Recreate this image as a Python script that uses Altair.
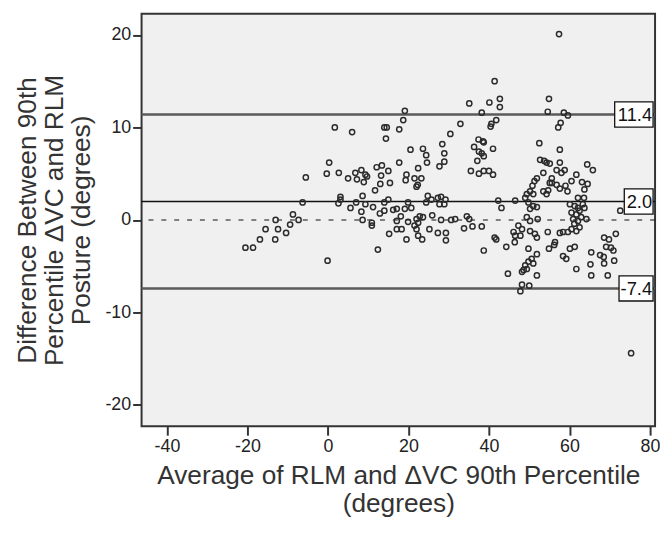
import altair as alt
import pandas as pd

# Average of RLM and dVC 90th percentile (x) and difference (y)
avg = [-5.5, -6.3, -8.7, -7.3, -9.4, -10.4, -13.0, -12.4, -13.1, -15.5, -16.9, -20.5, -18.6,
       1.7, 6.0, 14.0, 14.6, 17.7, 14.4, 0.3, -0.3, 2.7, 5.0, 6.8, 7.2, 8.3, 9.3, 9.7, 8.9,
       12.1, 13.4, 15.0, 13.2, 15.4, 13.0, 11.7, 17.7, 3.1, 3.1, 2.6, 7.0, 8.6, 9.3, 5.6, 8.3,
       11.2, 14.0, 15.0, 12.9, 14.0, 16.2, 8.6, 10.9, 10.9, 17.1, 18.1, 15.2, 17.1, 12.4, -0.1,
       35.1, 38.2, 19.1, 18.7, 32.9, 30.4, 28.4, 28.9, 28.9, 27.7, 20.5, 23.6, 24.4, 24.6, 22.4,
       19.5, 19.3, 21.5, 23.2, 22.0, 22.3, 37.4, 38.5, 36.3, 37.5, 37.1, 38.7, 35.5, 37.5, 38.7,
       24.8, 25.7, 27.3, 28.1, 29.2, 24.4, 27.7, 28.9, 19.9, 19.1, 20.7, 17.1, 18.3, 19.9, 22.0,
       22.8, 23.6, 22.4, 25.9, 28.1, 30.6, 31.6, 34.5, 35.1, 21.5, 22.0, 22.4, 23.4, 25.2, 27.3,
       29.3, 29.3, 19.5, 33.8, 35.9, 38.2, 38.7, 41.4, 40.1, 42.7, 42.7, 54.9, 54.6, 41.8, 40.6,
       40.4, 38.7, 38.2, 41.0, 40.0, 41.0, 52.5, 52.7, 53.7, 54.3, 53.5, 51.9, 51.3, 50.8, 50.2,
       49.4, 49.0, 51.0, 53.5, 54.3, 55.6, 55.6, 42.3, 46.5, 43.1, 49.8, 51.0, 51.9, 50.2, 49.4,
       50.2, 52.1, 47.3, 48.2, 41.4, 41.8, 46.1, 46.5, 47.8, 50.2, 51.4, 51.9, 54.6, 56.4, 44.3,
       46.4, 49.8, 51.9, 50.6, 49.8, 49.0, 48.6, 48.2, 49.4, 51.0, 51.9, 44.7, 48.2, 50.0, 47.8,
       58.6, 59.6, 57.8, 57.2, 57.6, 55.1, 57.6, 58.8, 58.0, 56.8, 55.1, 56.8, 57.6, 54.7, 64.4,
       65.8, 61.7, 60.5, 59.0, 59.5, 63.1, 64.5, 63.7, 63.6, 62.1, 60.1, 61.3, 62.1, 63.3, 63.7,
       60.5, 61.7, 62.5, 60.9, 62.1, 62.9, 64.2, 61.2, 60.5, 61.7, 59.6, 58.4, 57.6, 62.5, 72.6,
       68.6, 69.8, 71.5, 69.1, 70.3, 70.9, 68.5, 65.4, 65.2, 67.6, 71.1, 68.6, 61.7, 65.4, 69.5,
       56.2, 54.9, 60.1, 61.3, 59.2, 58.4, 57.4, 75.3]
diff = [4.6, 1.9, 0.6, 0.0, -0.5, -1.4, 0.0, -1.0, -2.1, -1.0, -2.1, -3.0, -3.0,
        10.0, 9.5, 10.0, 10.0, 9.8, 8.8, 6.2, 5.0, 5.1, 4.5, 5.1, 4.4, 5.4, 4.9, 4.7, 4.1,
        5.7, 5.9, 5.3, 4.8, 4.0, 3.9, 3.2, 6.2, 2.5, 2.2, 1.8, 1.9, 2.6, 1.7, 1.3, 0.9,
        1.4, 1.9, 2.2, 0.7, 1.0, 1.1, 0.0, -0.3, -0.6, -0.1, 0.4, -1.5, -1.0, -3.2, -4.4,
        12.6, 11.6, 11.8, 10.8, 10.4, 9.3, 8.2, 7.2, 6.3, 5.8, 7.6, 7.7, 7.0, 6.2, 5.6,
        4.9, 4.3, 4.5, 4.5, 3.6, 3.8, 8.7, 8.5, 7.9, 7.4, 6.4, 6.9, 5.3, 5.0, 5.3,
        2.6, 2.2, 2.4, 2.5, 2.2, 1.9, 1.7, 1.7, 1.9, 1.2, 1.3, 1.2, -1.0, -0.2, 0.1,
        0.4, 0.3, -0.3, 0.5, 0.0, 0.0, 0.1, 0.4, 0.1, -0.6, -1.0, -1.7, -2.1, -1.0, -1.4,
        -1.4, -2.2, -2.1, -0.9, -0.7, -0.7, -3.3, 15.0, 12.7, 13.1, 12.2, 13.1, 11.7, 10.8, 10.4,
        10.1, 8.4, 7.2, 7.7, 5.3, 4.9, 8.3, 6.5, 6.4, 6.2, 5.1, 4.5, 4.2, 3.7, 3.1,
        2.8, 2.4, 2.8, 3.1, 2.8, 4.0, 4.5, 2.1, 2.1, 1.3, 1.9, 1.5, 1.4, 1.2, 0.3,
        -0.1, 0.1, -0.6, -1.0, -1.9, -2.1, -1.3, -1.7, -1.7, -1.2, -1.5, -1.9, -1.3, -2.4, -2.9,
        -2.4, -3.1, -3.7, -4.2, -4.5, -4.9, -5.4, -5.6, -5.3, -4.7, -6.0, -5.8, -7.0, -7.1, -7.7,
        11.6, 11.3, 10.5, 10.0, 7.6, 6.1, 6.2, 5.4, 5.1, 5.4, 4.0, 3.8, 3.4, 3.2, 6.0,
        5.4, 4.9, 4.2, 3.7, 3.1, 4.1, 3.9, 3.3, 2.4, 2.4, 1.7, 1.5, 1.3, 1.7, 1.3,
        0.8, 0.6, 1.0, 0.1, -0.1, 0.3, 0.1, -0.4, -1.0, -1.2, -1.3, -1.3, -1.4, -0.8, 1.0,
        -1.9, -2.1, -1.5, -2.9, -3.0, -3.3, -4.0, -3.5, -4.8, -3.8, -4.4, -4.7, -5.3, -6.0, -6.0,
        -2.7, -3.1, -3.1, -2.9, -4.2, -3.9, 20.1, -14.4]

# Bias and limits of agreement
ref_values = [11.4, 2.0, -7.4]
ref_labels = ["11.4", "2.0", "-7.4"]
zero_line = [0.0]

x_ticks = [-40, -20, 0, 20, 40, 60, 80]
y_ticks = [-20, -10, 0, 10, 20]

points = pd.DataFrame({"avg": avg, "diff": diff})
refs = pd.DataFrame({"v": ref_values, "label": ref_labels})
zero_df = pd.DataFrame({"v": zero_line})

W, H = 519, 417
FONT = "Liberation Sans"
HYPHEN = "replace(datum.label, '\u2212', '-')"

xs = alt.Scale(domain=[-46.3, 81.25], nice=False, zero=False)
ys = alt.Scale(domain=[-22.3, 22.3], nice=False, zero=False)

xax = alt.Axis(values=x_ticks, title=["Average of RLM and \u0394VC 90th Percentile", "(degrees)"],
               grid=False, domain=False, tickSize=9, tickWidth=2, tickColor="#333333",
               labelFontSize=18, labelColor="#222222", labelPadding=3, labelFont=FONT,
               labelExpr=HYPHEN,
               titleFont=FONT, titleFontSize=26.5, titleFontWeight="normal", titleColor="#333333",
               titleLineHeight=28, titlePadding=7)
yax = alt.Axis(values=y_ticks, title=["Difference Between 90th", "Percentile \u0394VC and RLM", "Posture (degrees)"],
               grid=False, domain=False, tickSize=9, tickWidth=2, tickColor="#333333",
               labelFontSize=18, labelColor="#222222", labelPadding=2, labelFont=FONT,
               labelExpr=HYPHEN,
               titleFont=FONT, titleFontSize=26.5, titleFontWeight="normal", titleColor="#333333",
               titleLineHeight=27, titlePadding=10)

pts = alt.Chart(points).mark_point(shape="circle", filled=False, size=28, strokeWidth=1.5,
                                   color="#2b2b2b", opacity=1).encode(
    x=alt.X("avg:Q", scale=xs, axis=xax),
    y=alt.Y("diff:Q", scale=ys, axis=yax),
)

zero = alt.Chart(zero_df).mark_rule(color="#111111", strokeWidth=1.2, strokeDash=[5, 8]).encode(
    y=alt.Y("v:Q", scale=ys, axis=yax)
)

limits = alt.Chart(refs).transform_filter("datum.label != '2.0'").mark_rule(
    color="#5a5a5a", strokeWidth=2.5).encode(y=alt.Y("v:Q", scale=ys, axis=yax))

mean = alt.Chart(refs).transform_filter("datum.label == '2.0'").mark_rule(
    color="#111111", strokeWidth=1.6).encode(y=alt.Y("v:Q", scale=ys, axis=yax))

box_right = W - 2
layers = [zero, limits, mean, pts]
for lab in ref_labels:
    bw = 9.7 * len(lab) if not lab.startswith("-") else 8.6 * len(lab)
    box = alt.Chart(refs).transform_filter(f"datum.label == '{lab}'").transform_calculate(
        lo="datum.v - 1.36", hi="datum.v + 1.36").mark_rect(
        fill="white", stroke="#111111", strokeWidth=1.3).encode(
        x=alt.value(box_right - bw), x2=alt.value(box_right),
        y=alt.Y("lo:Q", scale=ys, axis=yax), y2="hi:Q")
    layers.append(box)

txt = alt.Chart(refs).mark_text(align="right", baseline="middle", fontSize=18.5, font=FONT,
                                color="#111111", dy=1).encode(
    x=alt.value(box_right - 1), y=alt.Y("v:Q", scale=ys, axis=yax), text="label:N")
layers.append(txt)

chart = alt.layer(*layers).properties(
    width=W, height=H, padding={"left": 6, "top": 3, "right": 0, "bottom": 0}
).configure(font=FONT).configure_view(
    fill="#f0f0f0", stroke="#333333", strokeWidth=2
)

chart.save("out.html", embed_options={"renderer": "svg", "actions": False})
